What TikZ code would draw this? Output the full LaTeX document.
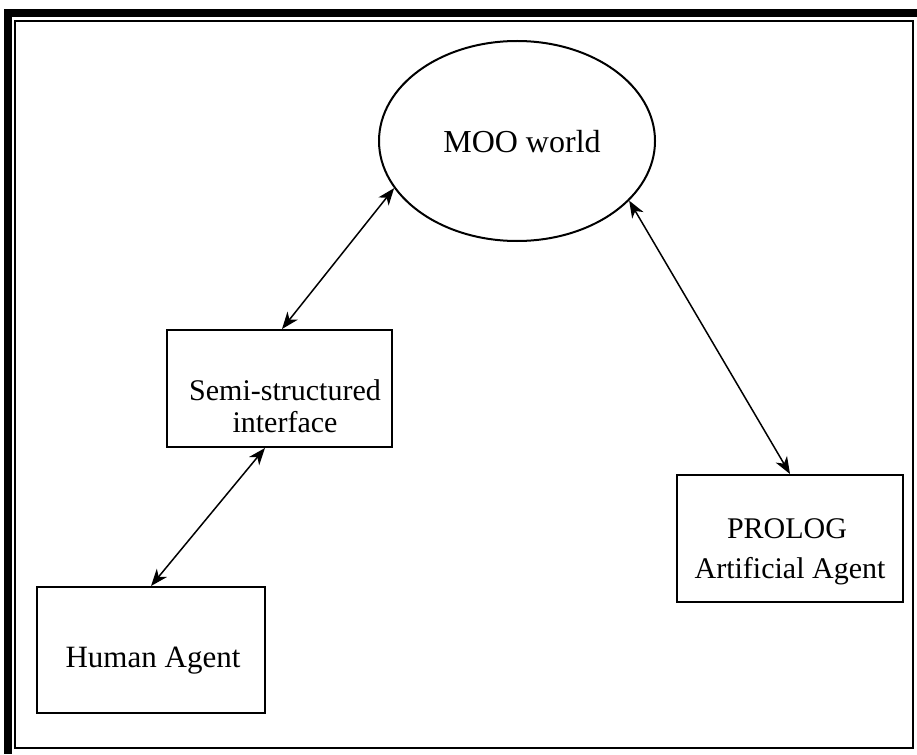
\documentclass[tikz,border=0pt]{standalone}
\usepackage{fontspec}
\setmainfont{Liberation Serif}
\usetikzlibrary{arrows.meta,shapes.geometric}
\begin{document}
\begin{tikzpicture}[x=1pt,y=-1pt,
  box/.style={draw, line width=2pt, inner sep=0pt},
  lbl/.style={font=\fontsize{30}{36}\selectfont, inner sep=0pt, anchor=base},
  link/.style={line width=1.5pt, {Stealth[length=17pt,width=13pt,inset=5pt]}-{Stealth[length=17pt,width=13pt,inset=5pt]}},
]
\useasboundingbox (0,0) rectangle (917,754);
% page frame: heavy bands on the top and left, thin inner rule
\fill (4,9) rectangle (917,17);
\fill (4,9) rectangle (12,754);
\draw[line width=1.5pt] (15,21) rectangle (913,748);

% world
\node[ellipse, draw, line width=2pt, minimum width=276pt, minimum height=200pt, inner sep=0pt] (moo) at (517,141) {};
\node[lbl, font=\fontsize{32}{38}\selectfont] (mootxt) at (522,153) {MOO world};

% interface
\node[box, minimum width=225pt, minimum height=117pt] (semi) at (279.5,388.5) {};
\node[lbl] (semitxt) at (285,400) {Semi-structured};
\node[lbl] (semitxtb) at (285,432) {interface};

% human agent
\node[box, minimum width=228pt, minimum height=126pt] (human) at (151,650) {};
\node[lbl, font=\fontsize{31}{36}\selectfont] (humantxt) at (153,667) {Human Agent};

% artificial agent
\node[box, minimum width=226pt, minimum height=127pt] (prolog) at (790,538.5) {};
\node[lbl] (prologtxt) at (787,538) {PROLOG};
\node[lbl] (prologtxtb) at (790,578) {Artificial Agent};

% connectors
\draw[link] ([xshift=2.5pt]semi.north) -- (moo.201.4);
\draw[link] (human.north) -- ([xshift=-14.5pt]semi.south);
\draw[link] (prolog.north) -- (moo.332.5);
\end{tikzpicture}
\end{document}
